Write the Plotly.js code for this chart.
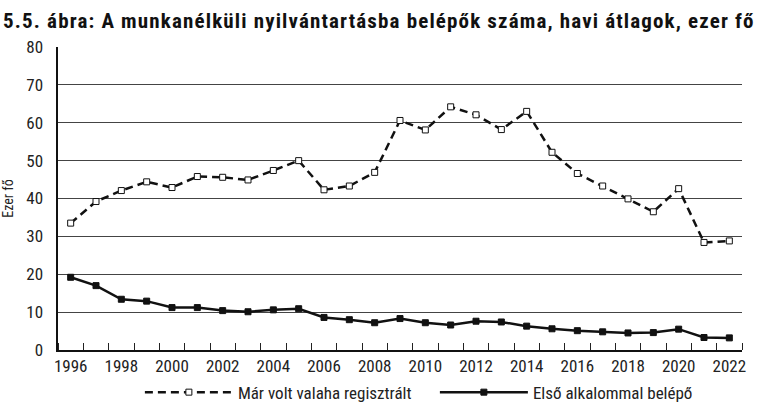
<!DOCTYPE html>
<html>
<head>
<meta charset="utf-8">
<script src="https://cdn.plot.ly/plotly-3.0.1.min.js"></script>
<style>
html,body{margin:0;padding:0;background:#fff;}
#chart{width:772px;height:406px;}
#chart .gtitle{letter-spacing:1.15px;}
</style>
</head>
<body>
<div id="chart"></div>
<script>
var years = [1996,1997,1998,1999,2000,2001,2002,2003,2004,2005,2006,2007,2008,2009,2010,2011,2012,2013,2014,2015,2016,2017,2018,2019,2020,2021,2022];
var marVolt = [33.5,39.2,42.1,44.4,42.9,45.8,45.6,44.9,47.4,50.0,42.3,43.3,46.9,60.6,58.1,64.2,62.1,58.2,63.0,52.2,46.6,43.3,39.9,36.5,42.6,28.4,28.8];
var elso = [19.2,17.0,13.4,12.9,11.2,11.2,10.4,10.1,10.6,10.9,8.6,8.0,7.2,8.3,7.2,6.6,7.6,7.4,6.3,5.6,5.1,4.8,4.5,4.6,5.5,3.3,3.2];
var seriesNames = ["Már volt valaha regisztrált", "Első alkalommal belépő"];
var yTicks = [0,10,20,30,40,50,60,70,80];
var xTickVals = [1996,1998,2000,2002,2004,2006,2008,2010,2012,2014,2016,2018,2020,2022];

var FONT = '"Roboto Condensed", "Liberation Sans Narrow", Roboto, sans-serif';
function f(size, extra) {
  var o = {family: FONT, size: size, stretch: 'condensed', color: '#222'};
  for (var k in (extra || {})) o[k] = extra[k];
  return o;
}

var traces = [
  {x: years, y: marVolt, name: seriesNames[0], type: 'scatter', mode: 'lines+markers',
   line: {color: '#111', width: 2.5, dash: '8px,5px'},
   marker: {symbol: 'square', size: 6, color: '#fff', line: {color: '#111', width: 1}}},
  {x: years, y: elso, name: seriesNames[1], type: 'scatter', mode: 'lines+markers',
   line: {color: '#111', width: 2.5},
   marker: {symbol: 'square', size: 6, color: '#111', line: {color: '#111', width: 1}}}
];

var layout = {
  width: 772, height: 406,
  margin: {l: 58, r: 30, t: 47, b: 56},
  paper_bgcolor: '#fff', plot_bgcolor: '#fff',
  font: f(17),
  title: {text: '5.5. ábra: A munkanélküli nyilvántartásba belépők száma, havi átlagok, ezer fő',
          font: f(21, {color: '#111', weight: 'bold'}),
          x: 0.004, xanchor: 'left', xref: 'container', y: 0.95, yanchor: 'middle', yref: 'container'},
  xaxis: {range: [1995.5, 2022.5], tickvals: xTickVals, ticktext: xTickVals.map(String),
          ticks: '', showgrid: false, zeroline: false, automargin: false,
          showline: true, linecolor: '#111', linewidth: 2,
          tickfont: f(17),
          minor: {tick0: 1996.5, dtick: 1, ticks: 'inside', ticklen: 7, tickcolor: '#222', tickwidth: 1, showgrid: false}},
  yaxis: {range: [0, 80], tickvals: yTicks, ticks: '', showgrid: true, gridcolor: '#444', gridwidth: 1,
          zeroline: false, showline: true, linecolor: '#111', linewidth: 2.5, ticklabelstandoff: 9,
          tickfont: f(17), automargin: false,
          title: {text: 'Ezer fő', font: f(14), standoff: 12}},
  showlegend: true,
  legend: {orientation: 'h', x: 0.551, xanchor: 'center', xref: 'paper', y: 0.033, yanchor: 'middle', yref: 'container',
           font: f(17), itemwidth: 88, entrywidth: 192, bgcolor: 'rgba(0,0,0,0)'}
};

Plotly.newPlot('chart', traces, layout, {displayModeBar: false, staticPlot: true});
</script>
</body>
</html>
